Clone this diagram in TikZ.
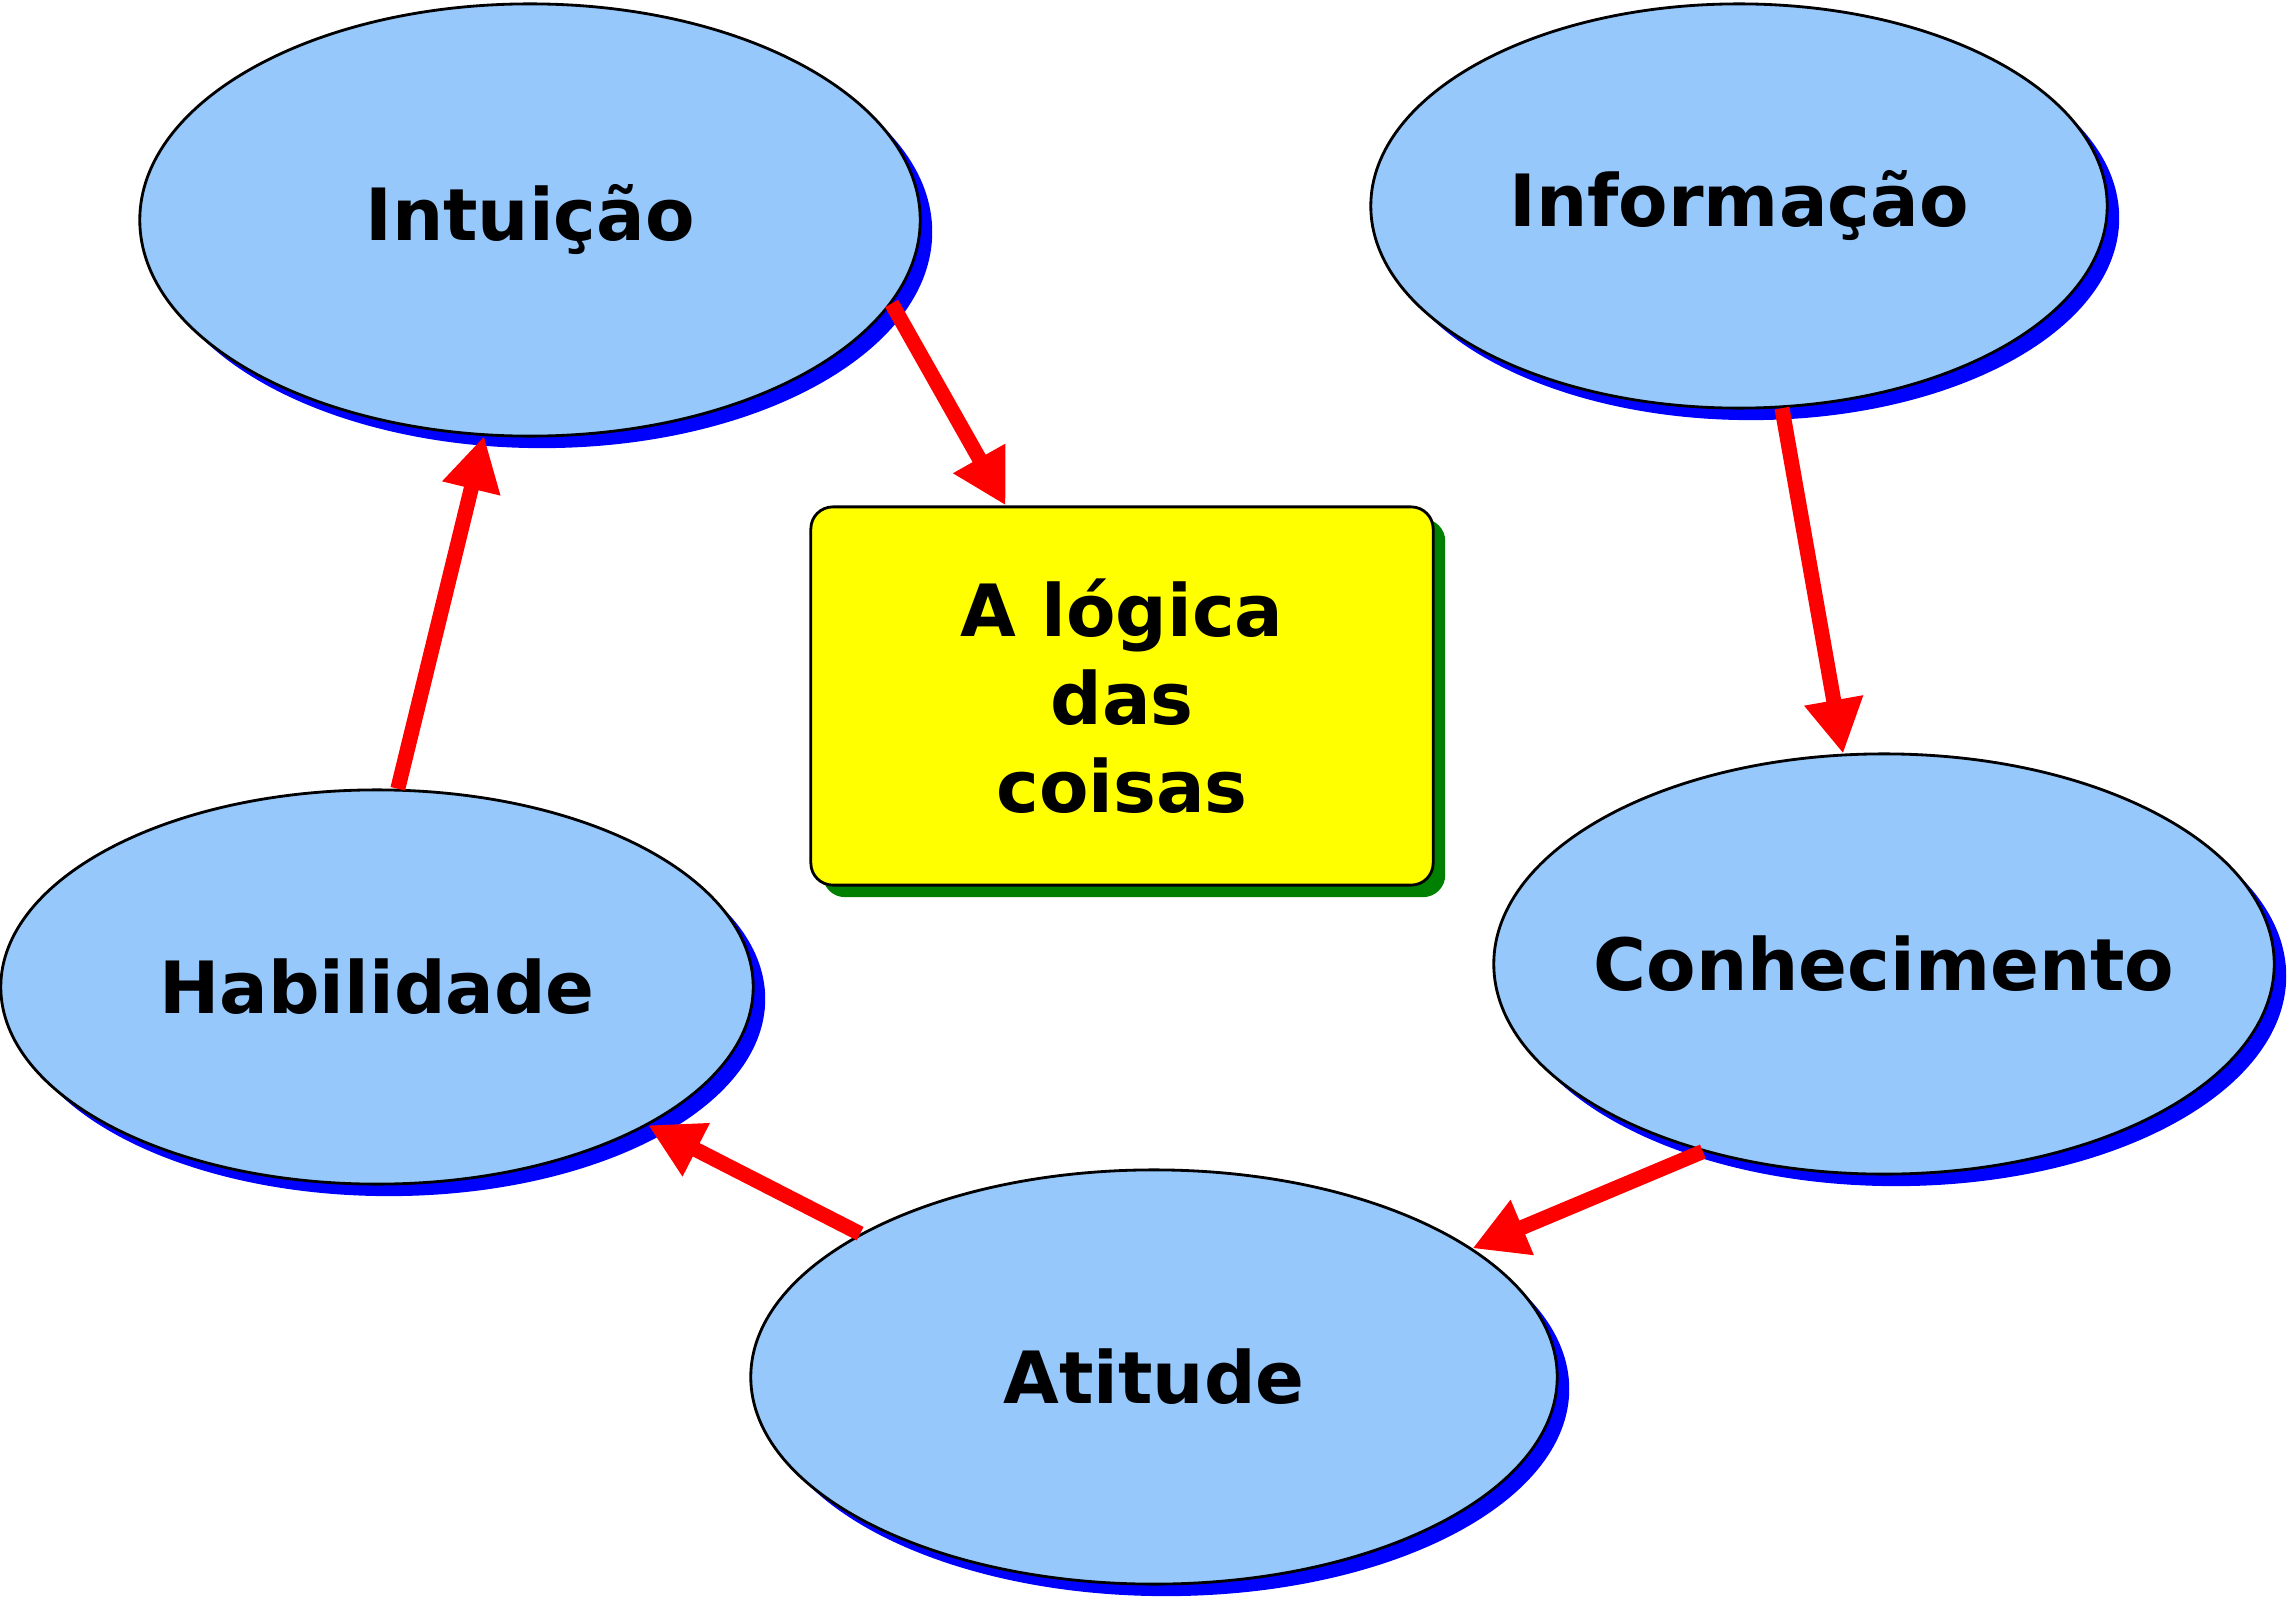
\documentclass[tikz,border=0pt]{standalone}
\usepackage{fontspec}
\setmainfont{DejaVu Sans}
\definecolor{balao}{HTML}{96C8FC}
\definecolor{sombraazul}{HTML}{0000FF}
\definecolor{caixaam}{HTML}{FFFF00}
\definecolor{sombraverde}{HTML}{008000}
\definecolor{setaverm}{HTML}{FF0000}
\usetikzlibrary{arrows.meta,calc,shapes.geometric,shadows}
\tikzset{
  rotulo/.style   = {font=\bfseries\fontsize{20.5pt}{25pt}\selectfont},
  conceito/.style = {ellipse,rotulo,draw=black,line width=0.8pt,fill=balao,
                     inner xsep=-0.6cm,inner ysep=0pt,
                     drop shadow={shadow xshift=0.12cm,shadow yshift=-0.12cm,
                                  fill=sombraazul,opacity=1}},
  caixa/.style    = {rectangle,rotulo,rounded corners=0.22cm,draw=black,
                     line width=0.8pt,fill=caixaam,align=center,
                     minimum width=6.22cm,minimum height=3.78cm,
                     drop shadow={shadow xshift=0.12cm,shadow yshift=-0.12cm,
                                  fill=sombraverde,opacity=1}},
  seta/.style     = {-{Triangle[length=0.54cm,width=0.56cm]},line width=0.15cm,
                     draw=setaverm},
}

\begin{document}
\begin{tikzpicture}[x=0.01cm,y=-0.01cm]
  \useasboundingbox (0,0) rectangle (2290,1603);
  % conceitos
  \node[conceito,minimum width=7.8cm,minimum height=4.32cm] (intuicao) at (530,220) {Intuição};
  \node[conceito,minimum width=7.36cm,minimum height=4.04cm] (informacao) at (1739,206) {Informação};
  \node[conceito,minimum width=7.8cm,minimum height=4.2cm] (conhecimento) at (1884,964) {Conhecimento};
  \node[conceito,minimum width=8.06cm,minimum height=4.14cm] (atitude) at (1154,1377) {Atitude};
  \node[conceito,minimum width=7.52cm,minimum height=3.94cm] (habilidade) at (377,987) {Habilidade};
  \node[caixa] (logica) at (1122,696) {A lógica\\ das\\ coisas};
  % setas
  \draw[seta] (intuicao.-13) -- ($(logica.north west)!0.314!(logica.north east)$);
  \draw[seta] (informacao.-78) -- (conhecimento.101);
  \draw[seta] (conhecimento.-134) -- (atitude.22);
  \draw[seta] (atitude.154) -- (habilidade.-27);
  \draw[seta] (habilidade.84) -- (intuicao.-102);
\end{tikzpicture}
\end{document}
